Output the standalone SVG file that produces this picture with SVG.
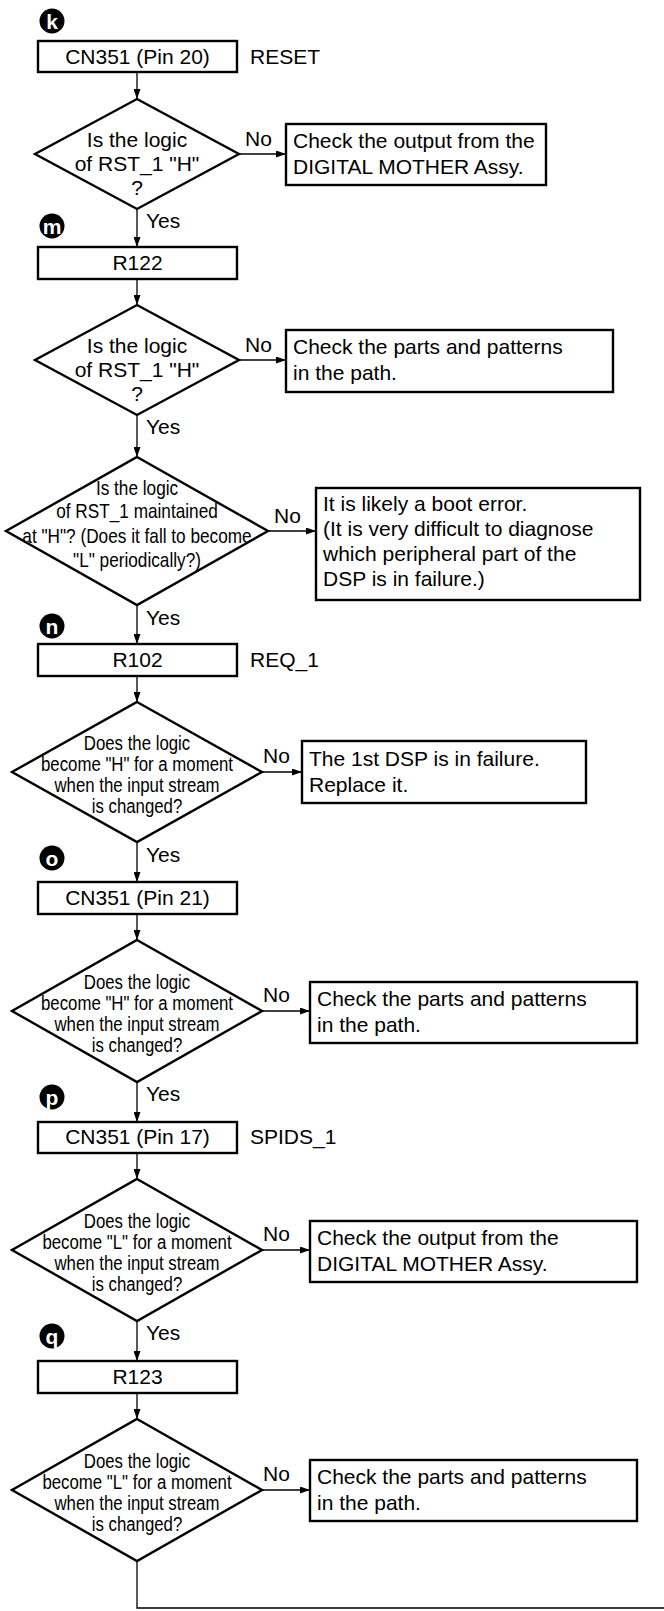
<svg xmlns="http://www.w3.org/2000/svg" width="664" height="1611" viewBox="0 0 664 1611">
<style>
.box{fill:#fff;stroke:#000;stroke-width:2.4}
.dia{fill:#fff;stroke:#000;stroke-width:2.4;stroke-linejoin:miter}
.t{font-family:"Liberation Sans",Arial,Helvetica,sans-serif;font-size:21px;fill:#000}
.c{text-anchor:middle}
.conn path{stroke:#000;stroke-width:1.3;fill:none}
.bd circle{fill:#000}
.bd text{font-family:"Liberation Sans",Arial,sans-serif;font-size:21px;font-weight:bold;fill:#fff;text-anchor:middle}
</style>
<defs>
<marker id="ah" markerWidth="10" markerHeight="7" refX="10" refY="3.5" orient="auto" markerUnits="userSpaceOnUse"><path d="M0,0 L10,3.5 L0,7 z" fill="#000"/></marker>
</defs>
<rect width="664" height="1611" fill="#fff"/>

<g id="connectors" class="conn">
<path d="M137,72 V99" marker-end="url(#ah)"/>
<path d="M239,154 H286" marker-end="url(#ah)"/>
<path d="M137,209 V247" marker-end="url(#ah)"/>
<path d="M137,279 V305" marker-end="url(#ah)"/>
<path d="M239,360 H286" marker-end="url(#ah)"/>
<path d="M137,415 V457" marker-end="url(#ah)"/>
<path d="M268,531 H316" marker-end="url(#ah)"/>
<path d="M137,605 V644" marker-end="url(#ah)"/>
<path d="M137,676 V702" marker-end="url(#ah)"/>
<path d="M262,772 H302" marker-end="url(#ah)"/>
<path d="M137,842 V882" marker-end="url(#ah)"/>
<path d="M137,914 V940" marker-end="url(#ah)"/>
<path d="M262,1011 H310" marker-end="url(#ah)"/>
<path d="M137,1082 V1122" marker-end="url(#ah)"/>
<path d="M137,1153 V1179" marker-end="url(#ah)"/>
<path d="M262,1250 H310" marker-end="url(#ah)"/>
<path d="M137,1321 V1361" marker-end="url(#ah)"/>
<path d="M137,1393 V1419" marker-end="url(#ah)"/>
<path d="M262,1490 H310" marker-end="url(#ah)"/>
<path d="M137,1561 V1608 H664"/>
<text class="t" x="245" y="146">No</text>
<text class="t" x="146" y="228">Yes</text>
<text class="t" x="245" y="352">No</text>
<text class="t" x="146" y="434">Yes</text>
<text class="t" x="274" y="523">No</text>
<text class="t" x="146" y="625">Yes</text>
<text class="t" x="263" y="763">No</text>
<text class="t" x="146" y="862">Yes</text>
<text class="t" x="263" y="1002">No</text>
<text class="t" x="146" y="1101">Yes</text>
<text class="t" x="263" y="1241">No</text>
<text class="t" x="146" y="1340">Yes</text>
<text class="t" x="263" y="1481">No</text>
</g>

<g id="badge-k" class="bd"><circle cx="52" cy="21" r="12.5"/><text x="52" y="28.5">k</text></g>
<g id="badge-m" class="bd"><circle cx="52" cy="226" r="12.5"/><text x="52" y="233.5">m</text></g>
<g id="badge-n" class="bd"><circle cx="52" cy="626" r="12.5"/><text x="52" y="633.5">n</text></g>
<g id="badge-o" class="bd"><circle cx="52" cy="858" r="12.5"/><text x="52" y="865.5">o</text></g>
<g id="badge-p" class="bd"><circle cx="52" cy="1097" r="12.5"/><text x="52" y="1104.5">p</text></g>
<g id="badge-q" class="bd"><circle cx="52" cy="1336" r="12.5"/><text x="52" y="1343.5">q</text></g>

<g id="box-cn351-20">
<rect class="box" x="38" y="41" width="199" height="31"/>
<text class="t c" x="137.5" y="64">CN351 (Pin 20)</text>
<text class="t" x="250" y="64">RESET</text>
</g>

<g id="dec-1">
<polygon class="dia" points="137,99 239,154 137,209 35,154"/>
<text class="t c" x="137" y="147">Is the logic</text>
<text class="t c" x="137" y="171">of RST_1 "H"</text>
<text class="t c" x="137" y="195">?</text>
</g>

<g id="res-1">
<rect class="box" x="286" y="124" width="260" height="61"/>
<text class="t" x="293" y="148">Check the output from the</text>
<text class="t" x="293" y="174">DIGITAL MOTHER Assy.</text>
</g>

<g id="box-r122">
<rect class="box" x="38" y="247" width="199" height="32"/>
<text class="t c" x="137.5" y="270">R122</text>
</g>

<g id="dec-2">
<polygon class="dia" points="137,305 239,360 137,415 35,360"/>
<text class="t c" x="137" y="353">Is the logic</text>
<text class="t c" x="137" y="377">of RST_1 "H"</text>
<text class="t c" x="137" y="401">?</text>
</g>

<g id="res-2">
<rect class="box" x="286" y="330" width="327" height="62"/>
<text class="t" x="293" y="354">Check the parts and patterns</text>
<text class="t" x="293" y="380">in the path.</text>
</g>

<g id="dec-3">
<polygon class="dia" points="137,457 268,531 137,605 6,531"/>
<g transform="translate(137 0) scale(0.82 1)">
<text class="t c" x="0" y="495">Is the logic</text>
<text class="t c" x="0" y="518">of RST_1 maintained</text>
<text class="t c" x="0" y="543">at "H"? (Does it fall to become</text>
<text class="t c" x="0" y="567">"L" periodically?)</text>
</g>
</g>

<g id="res-3">
<rect class="box" x="316" y="488" width="324" height="112"/>
<text class="t" x="323" y="511">It is likely a boot error.</text>
<text class="t" x="323" y="536">(It is very difficult to diagnose</text>
<text class="t" x="323" y="561">which peripheral part of the</text>
<text class="t" x="323" y="586">DSP is in failure.)</text>
</g>

<g id="box-r102">
<rect class="box" x="38" y="644" width="199" height="32"/>
<text class="t c" x="137.5" y="667">R102</text>
<text class="t" x="250" y="667">REQ_1</text>
</g>

<g id="dec-4">
<polygon class="dia" points="137,702 262,772 137,842 12,772"/>
<g transform="translate(137 0) scale(0.8 1)">
<text class="t c" x="0" y="750">Does the logic</text>
<text class="t c" x="0" y="771">become "H" for a moment</text>
<text class="t c" x="0" y="792">when the input stream</text>
<text class="t c" x="0" y="813">is changed?</text>
</g>
</g>

<g id="res-4">
<rect class="box" x="302" y="741" width="284" height="62"/>
<text class="t" x="309" y="766">The 1st DSP is in failure.</text>
<text class="t" x="309" y="792">Replace it.</text>
</g>

<g id="box-cn351-21">
<rect class="box" x="38" y="882" width="199" height="32"/>
<text class="t c" x="137.5" y="905">CN351 (Pin 21)</text>
</g>

<g id="dec-5">
<polygon class="dia" points="137,940 262,1011 137,1082 12,1011"/>
<g transform="translate(137 0) scale(0.8 1)">
<text class="t c" x="0" y="989">Does the logic</text>
<text class="t c" x="0" y="1010">become "H" for a moment</text>
<text class="t c" x="0" y="1031">when the input stream</text>
<text class="t c" x="0" y="1052">is changed?</text>
</g>
</g>

<g id="res-5">
<rect class="box" x="310" y="982" width="327" height="61"/>
<text class="t" x="317" y="1006">Check the parts and patterns</text>
<text class="t" x="317" y="1032">in the path.</text>
</g>

<g id="box-cn351-17">
<rect class="box" x="38" y="1122" width="199" height="31"/>
<text class="t c" x="137.5" y="1144">CN351 (Pin 17)</text>
<text class="t" x="250" y="1144">SPIDS_1</text>
</g>

<g id="dec-6">
<polygon class="dia" points="137,1179 262,1250 137,1321 12,1250"/>
<g transform="translate(137 0) scale(0.8 1)">
<text class="t c" x="0" y="1228">Does the logic</text>
<text class="t c" x="0" y="1249">become "L" for a moment</text>
<text class="t c" x="0" y="1270">when the input stream</text>
<text class="t c" x="0" y="1291">is changed?</text>
</g>
</g>

<g id="res-6">
<rect class="box" x="310" y="1221" width="327" height="61"/>
<text class="t" x="317" y="1245">Check the output from the</text>
<text class="t" x="317" y="1271">DIGITAL MOTHER Assy.</text>
</g>

<g id="box-r123">
<rect class="box" x="38" y="1361" width="199" height="32"/>
<text class="t c" x="137.5" y="1384">R123</text>
</g>

<g id="dec-7">
<polygon class="dia" points="137,1419 262,1490 137,1561 12,1490"/>
<g transform="translate(137 0) scale(0.8 1)">
<text class="t c" x="0" y="1468">Does the logic</text>
<text class="t c" x="0" y="1489">become "L" for a moment</text>
<text class="t c" x="0" y="1510">when the input stream</text>
<text class="t c" x="0" y="1531">is changed?</text>
</g>
</g>

<g id="res-7">
<rect class="box" x="310" y="1460" width="327" height="61"/>
<text class="t" x="317" y="1484">Check the parts and patterns</text>
<text class="t" x="317" y="1510">in the path.</text>
</g>
</svg>
